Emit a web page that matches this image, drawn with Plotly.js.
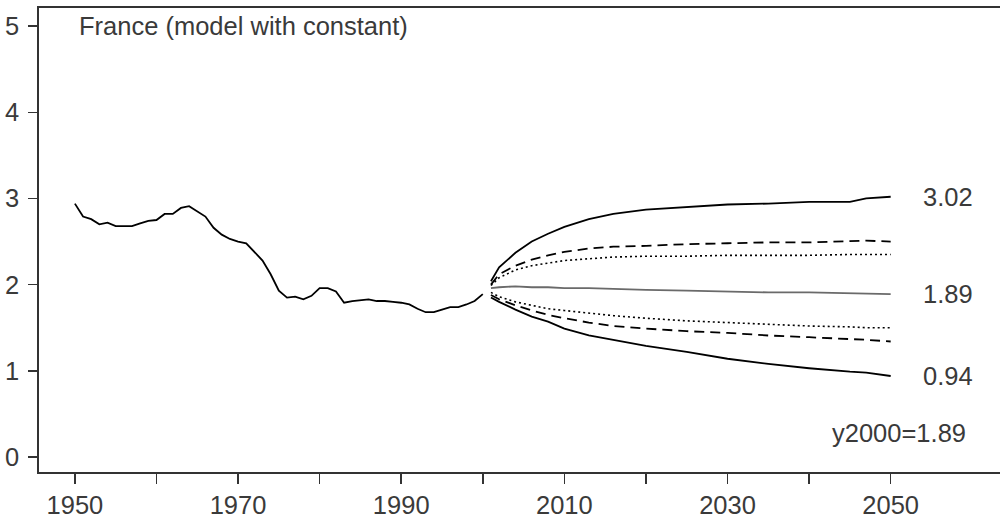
<!DOCTYPE html>
<html>
<head>
<meta charset="utf-8">
<script src="https://cdn.plot.ly/plotly-3.0.1.min.js"></script>
<style>
  html, body { margin: 0; padding: 0; background: #fff; }
  #chart { width: 1000px; height: 522px; }
</style>
</head>
<body>
<div id="chart"></div>
<script>
// ---- Data ----
const histYears = [1950,1951,1952,1953,1954,1955,1956,1957,1958,1959,
                   1960,1961,1962,1963,1964,1965,1966,1967,1968,1969,
                   1970,1971,1972,1973,1974,1975,1976,1977,1978,1979,
                   1980,1981,1982,1983,1984,1985,1986,1987,1988,1989,
                   1990,1991,1992,1993,1994,1995,1996,1997,1998,1999,2000];
const histValues = [2.94,2.79,2.76,2.70,2.72,2.68,2.68,2.68,2.71,2.74,
                    2.75,2.82,2.82,2.89,2.91,2.85,2.79,2.66,2.58,2.53,
                    2.50,2.48,2.38,2.28,2.12,1.93,1.85,1.86,1.83,1.87,
                    1.96,1.96,1.92,1.79,1.81,1.82,1.83,1.81,1.81,1.80,
                    1.79,1.77,1.72,1.68,1.68,1.71,1.74,1.74,1.77,1.81,1.89];

const fcYears     = [2001,2002,2004,2006,2008,2010,2013,2016,2020,2025,2030,2035,2040,2045,2047,2050];
const upperSolid  = [2.04,2.20,2.37,2.50,2.59,2.67,2.76,2.82,2.87,2.90,2.93,2.94,2.96,2.96,3.00,3.02];
const upperDashed = [2.00,2.12,2.22,2.29,2.34,2.38,2.42,2.44,2.45,2.47,2.48,2.49,2.49,2.50,2.51,2.50];
const upperDotted = [1.99,2.08,2.17,2.22,2.25,2.28,2.30,2.32,2.33,2.33,2.34,2.34,2.34,2.35,2.35,2.35];
const median      = [1.96,1.97,1.98,1.97,1.97,1.96,1.96,1.95,1.94,1.93,1.92,1.91,1.91,1.90,1.90,1.89];
const lowerDotted = [1.91,1.86,1.80,1.76,1.72,1.70,1.67,1.64,1.61,1.58,1.56,1.54,1.52,1.51,1.50,1.50];
const lowerDashed = [1.88,1.83,1.76,1.70,1.65,1.61,1.56,1.52,1.49,1.46,1.44,1.41,1.39,1.37,1.36,1.34];
const lowerSolid  = [1.85,1.80,1.71,1.63,1.57,1.49,1.41,1.36,1.29,1.22,1.14,1.08,1.03,0.99,0.98,0.94];

const xTickVals  = [1950,1960,1970,1980,1990,2000,2010,2020,2030,2040,2050];
const xTickText  = ['1950','','1970','','1990','','2010','','2030','','2050'];
const yTickVals  = [0,1,2,3,4,5];

const chartTitle = 'France (model with constant)';
const endLabels  = ['3.02','1.89','0.94'];
const endValues  = [3.02, 1.89, 0.94];
const noteText   = 'y2000=1.89';
const noteValue  = 0.28;

// ---- Styling ----
const FONT = '"Liberation Sans", Arial, sans-serif';
const TXT = '#3a3a3a';
const AX = '#333333';

function line(x, y, color, dash, width) {
  return {x: x, y: y, type: 'scatter', mode: 'lines', hoverinfo: 'skip',
          line: {color: color, dash: dash, width: width, shape: 'linear'}};
}

const traces = [
  line(histYears, histValues, '#000', 'solid', 1.8),
  line(fcYears, upperSolid, '#000', 'solid', 1.8),
  line(fcYears, upperDashed, '#000', '10px,6px', 1.8),
  line(fcYears, upperDotted, '#000', '2px,3px', 1.6),
  line(fcYears, median, '#6a6a6a', 'solid', 1.8),
  line(fcYears, lowerDotted, '#000', '2px,3px', 1.6),
  line(fcYears, lowerDashed, '#000', '10px,6px', 1.8),
  line(fcYears, lowerSolid, '#000', 'solid', 1.8)
];

const annotations = [
  {x: 1950.2, y: 5.0, xref: 'x', yref: 'y', text: chartTitle, showarrow: false,
   xanchor: 'left', yanchor: 'middle', font: {family: FONT, size: 25.5, color: TXT}}
];
endLabels.forEach(function(t, i) {
  annotations.push({x: 2053.7, y: endValues[i], xref: 'x', yref: 'y', text: t, showarrow: false,
    xanchor: 'left', yanchor: 'middle', font: {family: FONT, size: 25.5, color: TXT}});
});
annotations.push({x: 2059.5, y: noteValue, xref: 'x', yref: 'y', text: noteText, showarrow: false,
  xanchor: 'right', yanchor: 'middle', font: {family: FONT, size: 25.5, color: TXT}});

const layout = {
  width: 1000, height: 522,
  margin: {l: 39, r: 0, t: 8, b: 50, pad: 0},
  paper_bgcolor: '#fff', plot_bgcolor: '#fff',
  showlegend: false,
  font: {family: FONT, size: 25.5, color: TXT},
  xaxis: {
    range: [1945.6, 2063.4], tickmode: 'array', tickvals: xTickVals, ticktext: xTickText,
    ticks: 'outside', ticklen: 10, tickwidth: 1.5, tickcolor: AX,
    showline: true, linecolor: AX, linewidth: 1.8, mirror: true,
    showgrid: false, zeroline: false, ticklabelstandoff: 0,
    tickfont: {family: FONT, size: 25.5, color: TXT}
  },
  yaxis: {
    range: [-0.174, 5.21], tickmode: 'array', tickvals: yTickVals,
    ticks: 'outside', ticklen: 9, tickwidth: 1.5, tickcolor: AX,
    showline: true, linecolor: AX, linewidth: 1.8, mirror: false,
    showgrid: false, zeroline: false, ticklabelstandoff: 4,
    tickfont: {family: FONT, size: 25.5, color: TXT}
  },
  annotations: annotations
};

Plotly.newPlot('chart', traces, layout, {staticPlot: true, displayModeBar: false});
</script>
</body>
</html>
